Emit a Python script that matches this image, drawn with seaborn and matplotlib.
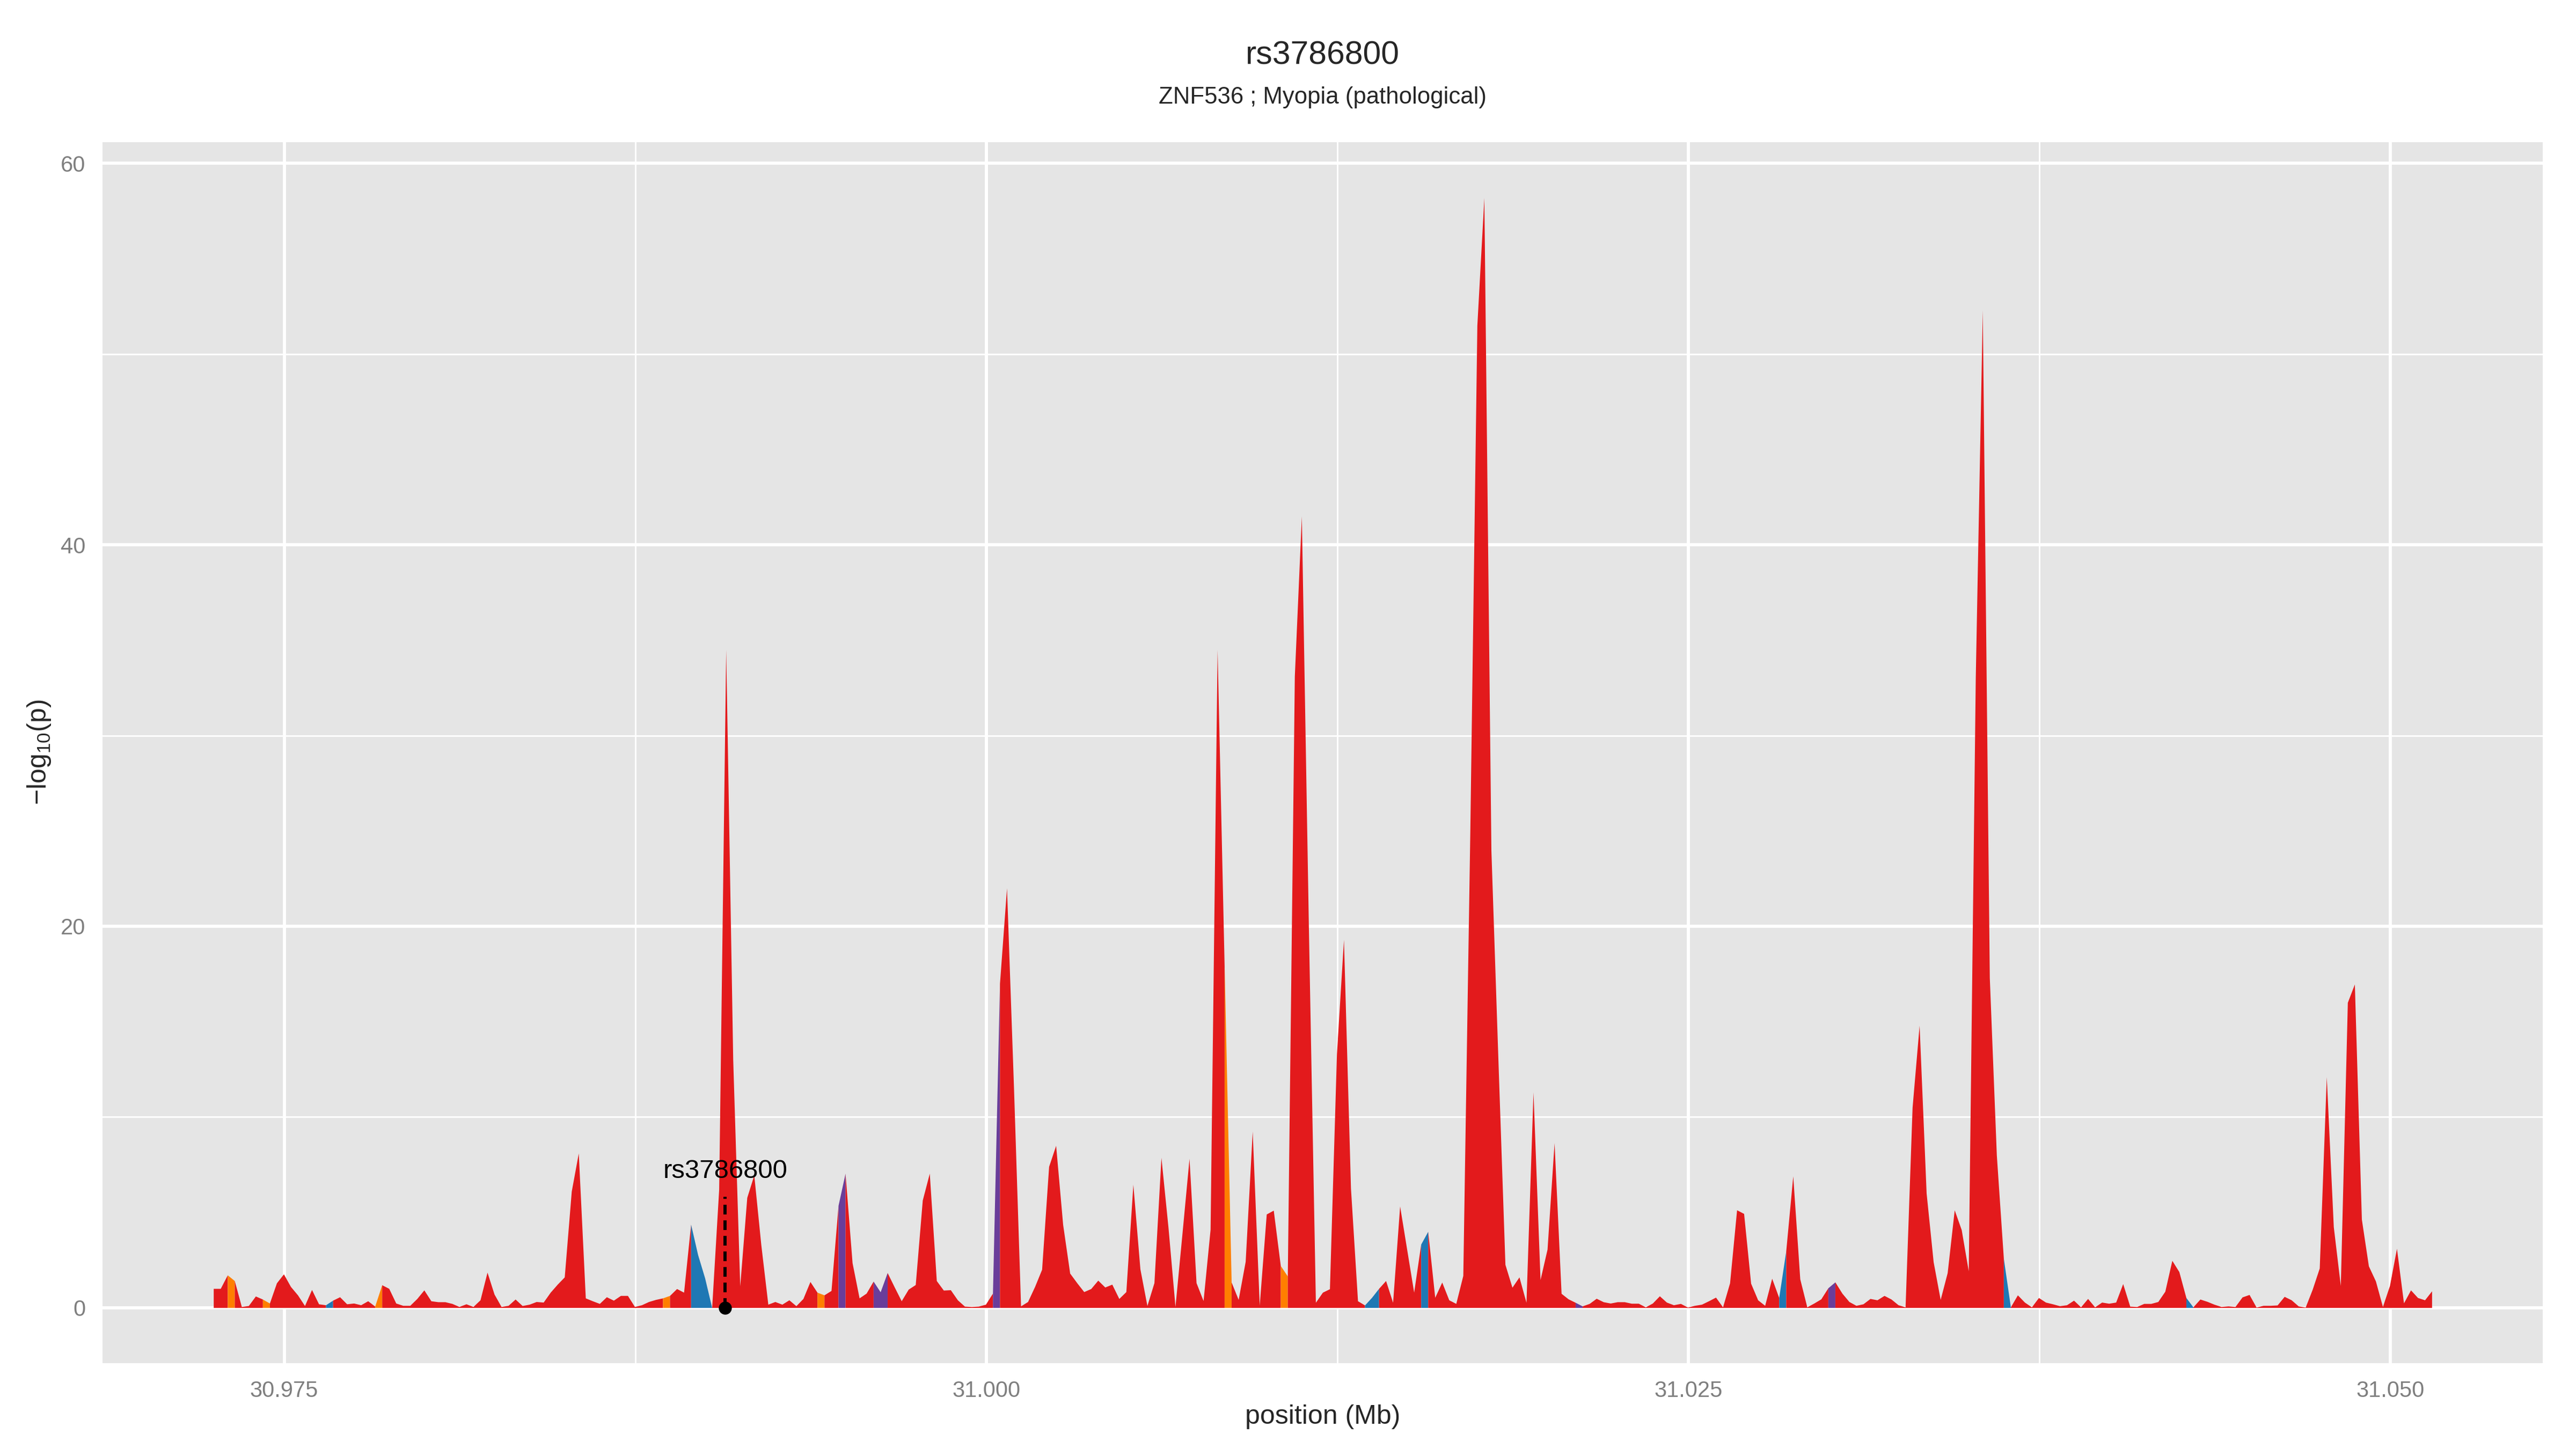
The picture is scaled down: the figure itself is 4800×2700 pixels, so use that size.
import itertools

import numpy as np
import pandas as pd
import matplotlib
matplotlib.use("Agg")
import matplotlib.pyplot as plt
import seaborn as sns
from matplotlib.ticker import MultipleLocator, FormatStrFormatter

# Data
# positions are on a regular 0.25 kb grid starting here (Mb)
pos_start_mb = 30.97248
pos_step_mb = 0.00025

# -log10(p) at each grid position
neglogp = [
    1.0, 1.0, 1.71, 1.41, 0.05, 0.1, 0.6, 0.44, 0.23, 1.29,
    1.76, 1.1, 0.66, 0.1, 0.94, 0.19, 0.14, 0.38, 0.56, 0.19,
    0.23, 0.14, 0.35, 0.07, 1.19, 1.0, 0.23, 0.11, 0.11, 0.47,
    0.92, 0.35, 0.3, 0.3, 0.21, 0.05, 0.19, 0.05, 0.4, 1.85,
    0.7, 0.05, 0.11, 0.44, 0.1, 0.17, 0.31, 0.28, 0.8, 1.22,
    1.6, 6.1, 8.1, 0.5, 0.35, 0.21, 0.56, 0.38, 0.63, 0.63,
    0.05, 0.14, 0.31, 0.42, 0.5, 0.63, 0.99, 0.8, 4.37, 2.77,
    1.55, 0.0, 6.2, 34.5, 13.0, 1.13, 5.77, 6.95, 3.3, 0.17,
    0.31, 0.17, 0.4, 0.09, 0.47, 1.36, 0.8, 0.66, 0.89, 5.35,
    7.04, 2.35, 0.5, 0.75, 1.38, 0.82, 1.83, 1.08, 0.35, 0.96,
    1.2, 5.63, 7.04, 1.41, 0.91, 0.93, 0.4, 0.07, 0.05, 0.07,
    0.17, 0.75, 17.0, 22.0, 11.5, 0.08, 0.31, 1.1, 2.0, 7.4,
    8.5, 4.35, 1.8, 1.3, 0.83, 0.99, 1.43, 1.07, 1.22, 0.47,
    0.83, 6.46, 2.03, 0.1, 1.3, 7.87, 4.22, 0.05, 3.9, 7.82,
    1.3, 0.36, 4.1, 34.5, 17.9, 1.33, 0.42, 2.42, 9.25, 0.12,
    4.9, 5.1, 2.2, 1.65, 33.1, 41.5, 20.0, 0.27, 0.8, 0.98,
    13.3, 19.3, 6.25, 0.35, 0.13, 0.53, 1.0, 1.41, 0.27, 5.32,
    3.06, 0.8, 3.32, 3.99, 0.53, 1.33, 0.4, 0.21, 1.68, 25.0,
    51.5, 58.2, 24.0, 13.0, 2.26, 1.06, 1.6, 0.27, 11.3, 1.46,
    3.06, 8.64, 0.74, 0.45, 0.27, 0.08, 0.21, 0.48, 0.3, 0.23,
    0.3, 0.3, 0.22, 0.22, 0.03, 0.23, 0.61, 0.28, 0.14, 0.21,
    0.02, 0.11, 0.17, 0.35, 0.54, 0.03, 1.29, 5.12, 4.93, 1.27,
    0.4, 0.11, 1.53, 0.52, 2.96, 6.9, 1.5, 0.03, 0.23, 0.45,
    1.03, 1.34, 0.75, 0.31, 0.11, 0.19, 0.47, 0.4, 0.63, 0.44,
    0.14, 0.03, 10.5, 14.8, 6.0, 2.4, 0.42, 1.83, 5.12, 4.08,
    1.92, 33.0, 52.3, 17.3, 8.0, 2.58, 0.03, 0.66, 0.28, 0.03,
    0.52, 0.28, 0.19, 0.09, 0.14, 0.38, 0.03, 0.47, 0.03, 0.28,
    0.22, 0.28, 1.25, 0.07, 0.05, 0.21, 0.21, 0.31, 0.85, 2.47,
    1.88, 0.52, 0.03, 0.44, 0.32, 0.17, 0.05, 0.08, 0.05, 0.55,
    0.68, 0.02, 0.11, 0.11, 0.13, 0.58, 0.4, 0.08, 0.02, 0.96,
    2.07, 12.1, 4.24, 1.15, 16.0, 16.96, 4.63, 2.18, 1.39, 0.05,
    1.15, 3.1, 0.24, 0.92, 0.52, 0.4, 0.87,
]

# segments (index of left point) that are not red
orange_segments = [2, 7, 23, 64, 86, 144, 152]
blue_segments = [16, 68, 69, 70, 164, 165, 172, 223, 255, 281]
purple_segments = [89, 94, 95, 111, 194, 230]

snp_id = "rs3786800"
snp_pos_mb = 30.99070
subtitle = "ZNF536 ; Myopia (pathological)"

x_ticks = [30.975, 31.000, 31.025, 31.050]
y_ticks = [0, 20, 40, 60]

palette = {
    "red": "#E31A1C",
    "blue": "#1F78B4",
    "orange": "#FF7F00",
    "purple": "#6A3D9A",
}

# Build table
df = pd.DataFrame({"neglogp": neglogp})
df["pos"] = pos_start_mb + pos_step_mb * np.arange(len(df))
seg_class = ["red"] * (len(df) - 1)
for name, idx in [("orange", orange_segments), ("blue", blue_segments),
                  ("purple", purple_segments)]:
    for i in idx:
        seg_class[i] = name

# Theme (ggplot-like grey panel)
sns.set_theme(style="darkgrid", rc={
    "axes.facecolor": "#E5E5E5",
    "grid.color": "white",
    "axes.axisbelow": True,
})
plt.rcParams["font.family"] = ["Liberation Sans", "DejaVu Sans"]
plt.rcParams["mathtext.fontset"] = "custom"
plt.rcParams["mathtext.rm"] = "Liberation Sans"
plt.rcParams["mathtext.default"] = "regular"

fig = plt.figure(figsize=(16, 9), dpi=300)
ax = fig.add_axes([0.03981, 0.05926, 0.94727, 0.84259])

# Filled area, one polygon per run of same-coloured segments
x = df["pos"].to_numpy()
y = df["neglogp"].to_numpy()
start = 0
for cls, grp in itertools.groupby(seg_class):
    n = len(list(grp))
    sl = slice(start, start + n + 1)
    ax.fill_between(x[sl], 0, y[sl], color=palette[cls], linewidth=0,
                    zorder=2)
    start += n

# SNP marker with dashed stem and label
ax.plot([snp_pos_mb, snp_pos_mb], [0, 5.82], color="black", lw=1.45,
        linestyle=(0, (3, 1.8)), zorder=3)
sns.scatterplot(x=[snp_pos_mb], y=[0], color="black", s=34, linewidth=0,
                ax=ax, zorder=4, legend=False)
ax.text(snp_pos_mb, 6.81, snp_id, ha="center", va="baseline",
        fontsize=11.8, color="black", zorder=5)

# Axes / grid
ax.set_xlim(30.96853, 31.05543)
ax.set_ylim(-2.91, 61.11)
ax.set_xticks(x_ticks)
ax.set_yticks(y_ticks)
ax.xaxis.set_major_formatter(FormatStrFormatter("%.3f"))
ax.xaxis.set_minor_locator(MultipleLocator(0.0125))
ax.yaxis.set_minor_locator(MultipleLocator(10))
ax.grid(which="major", color="white", linewidth=1.42)
ax.grid(which="minor", color="white", linewidth=0.71)
for s in ax.spines.values():
    s.set_visible(False)
ax.tick_params(which="major", length=4.25, width=1.4, color="#7F7F7F",
               labelcolor="#7F7F7F", labelsize=10, pad=3.4)
ax.tick_params(which="minor", length=0)
ax.set_xlabel("")
ax.set_ylabel("")

# Titles and axis labels
cx = 0.5134
fig.text(cx, 1 - 119 / 2700, snp_id, ha="center", va="baseline",
         fontsize=14.6)
fig.text(cx, 1 - 193 / 2700, subtitle, ha="center", va="baseline",
         fontsize=10.5)
fig.text(cx, 1 - 2653 / 2700, "position (Mb)", ha="center", va="baseline",
         fontsize=12)
fig.text(73.5 / 4800, 1 - 1402 / 2700, "\u2212log$_{10}$(p)", rotation=90,
         ha="center", va="center", fontsize=12)

fig.savefig("out.png", dpi=300, facecolor="white")
